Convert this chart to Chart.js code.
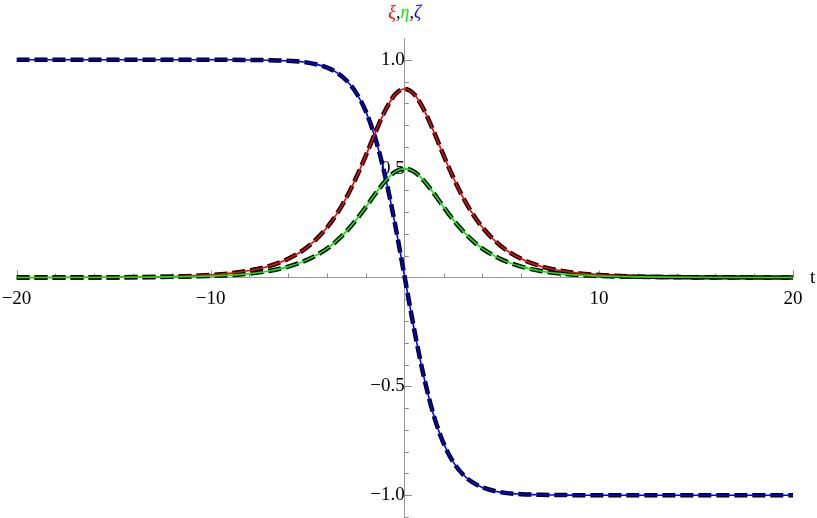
<!DOCTYPE html>
<html>
<head>
<meta charset="utf-8">
<script src="https://cdn.jsdelivr.net/npm/chart.js@4.4.1/dist/chart.umd.min.js"></script>
<style>
  html, body { margin: 0; padding: 0; background: #fff; }
  #wrap { width: 817px; height: 518px; }
</style>
</head>
<body>
<div id="wrap"><canvas id="chart" width="817" height="518"></canvas></div>
<script>
// values
const tValues = [-20, -16, -14, -12, -10, -9, -8, -7, -6, -5, -4, -3.5, -3, -2.5, -2, -1.5, -1, -0.5, 0,
  0.5, 1, 1.5, 2, 2.5, 3, 3.5, 4, 5, 6, 7, 8, 9, 10, 12, 14, 16, 20];
const xiValues = [0, 0.001, 0.002, 0.004, 0.012, 0.019, 0.032, 0.052, 0.086, 0.141, 0.230, 0.292, 0.368, 0.459, 0.561, 0.669, 0.768, 0.840, 0.866,
  0.840, 0.768, 0.669, 0.561, 0.459, 0.368, 0.292, 0.230, 0.141, 0.086, 0.052, 0.032, 0.019, 0.012, 0.004, 0.002, 0.001, 0];
const etaValues = [0, 0, 0.001, 0.003, 0.007, 0.011, 0.018, 0.030, 0.050, 0.082, 0.133, 0.169, 0.213, 0.265, 0.324, 0.386, 0.443, 0.485, 0.5,
  0.485, 0.443, 0.386, 0.324, 0.265, 0.213, 0.169, 0.133, 0.082, 0.050, 0.030, 0.018, 0.011, 0.007, 0.003, 0.001, 0, 0];
const zetaValues = [1, 1, 1, 1, 1, 1, 0.999, 0.998, 0.995, 0.987, 0.964, 0.941, 0.905, 0.848, 0.762, 0.635, 0.462, 0.245, 0,
  -0.245, -0.462, -0.635, -0.762, -0.848, -0.905, -0.941, -0.964, -0.987, -0.995, -0.998, -0.999, -1, -1, -1, -1, -1, -1];

const xTicks = [-20, -10, 10, 20];
const yTicks = [-1.0, -0.5, 0.5, 1.0];

const pts = vals => tValues.map((t, i) => ({ x: t, y: vals[i] }));
const solid = (vals, color) => ({
  data: pts(vals), borderColor: color, borderWidth: 1.6, pointRadius: 0,
  cubicInterpolationMode: 'monotone', order: 0
});
const dashed = vals => ({
  data: pts(vals), borderColor: '#000', borderWidth: 4.5, borderDash: [13, 5],
  pointRadius: 0, cubicInterpolationMode: 'monotone', order: 1
});

const serif = '"Liberation Serif", "DejaVu Serif", serif';
const fmt = v => (v < 0 ? '\u2212' : '') + Math.abs(v).toFixed(1);

// minor/major tick marks, axis label and title
const axisDecor = {
  id: 'axisDecor',
  beforeDatasetsDraw(chart) {
    const { ctx, scales: { x, y } } = chart;
    const x0 = x.getPixelForValue(0), y0 = y.getPixelForValue(0);
    ctx.save();
    ctx.strokeStyle = '#888';
    ctx.lineWidth = 1;
    ctx.beginPath();
    for (let t = -20; t <= 20; t += 2) {
      if (t === 0) continue;
      const px = Math.round(x.getPixelForValue(t)) + 0.5;
      const len = t % 10 === 0 ? 7 : 4;
      ctx.moveTo(px, y0); ctx.lineTo(px, y0 - len);
    }
    for (let k = -11; k <= 10; k++) {
      if (k === 0) continue;
      const py = Math.round(y.getPixelForValue(k / 10)) + 0.5;
      const len = k % 5 === 0 ? 7 : 4;
      ctx.moveTo(x0, py); ctx.lineTo(x0 + len, py);
    }
    ctx.stroke();
    ctx.restore();
  },
  afterDraw(chart) {
    const { ctx, scales: { x, y } } = chart;
    const y0 = y.getPixelForValue(0);
    ctx.save();
    ctx.font = '19px ' + serif;
    ctx.fillStyle = '#000';
    ctx.textBaseline = 'middle';
    ctx.fillText('t', 810, y0 + 1);
    // title
    ctx.font = 'italic 18px ' + serif;
    ctx.textBaseline = 'alphabetic';
    const parts = [['\u03be', '#f00'], [',', '#000'], ['\u03b7', '#0e0'], [',', '#000'], ['\u03b6', '#00f']];
    const w = parts.reduce((s, p) => s + ctx.measureText(p[0]).width, 0);
    let px = x.getPixelForValue(0) - w / 2;
    parts.forEach(([s, c]) => {
      ctx.fillStyle = c;
      ctx.fillText(s, px, 18);
      px += ctx.measureText(s).width;
    });
    ctx.restore();
  }
};

new Chart(document.getElementById('chart'), {
  type: 'line',
  data: {
    // first in list is drawn on top
    datasets: [
      solid(etaValues, '#00f000'),
      solid(xiValues, '#ff0000'),
      solid(zetaValues, '#0000ff'),
      dashed(etaValues),
      dashed(xiValues),
      dashed(zetaValues)
    ]
  },
  options: {
    responsive: false,
    animation: false,
    layout: { padding: { left: 16.5, right: 24, top: 38, bottom: 1 } },
    plugins: { legend: { display: false }, tooltip: { enabled: false } },
    scales: {
      x: {
        type: 'linear', min: -20, max: 20,
        position: { y: 0 },
        grid: { display: false, drawTicks: false },
        border: { display: true, color: '#999', width: 1 },
        afterBuildTicks: s => { s.ticks = xTicks.map(v => ({ value: v })); },
        afterFit: s => { s.height = 0; s.paddingLeft = 0; s.paddingRight = 0; },
        ticks: {
          padding: 10, color: '#000', maxRotation: 0, autoSkip: false,
          font: { family: serif, size: 19 },
          callback: v => (v < 0 ? '\u2212' : '') + Math.abs(v)
        }
      },
      y: {
        type: 'linear', min: -1.1, max: 1.1,
        position: { x: 0 },
        grid: { display: false, drawTicks: false },
        border: { display: true, color: '#999', width: 1 },
        afterBuildTicks: s => { s.ticks = yTicks.map(v => ({ value: v })); },
        afterFit: s => { s.width = 0; s.paddingTop = 0; s.paddingBottom = 0; },
        ticks: {
          padding: 7, color: '#000', autoSkip: false,
          font: { family: serif, size: 19 },
          callback: v => fmt(v)
        }
      }
    }
  },
  plugins: [axisDecor]
});
</script>
</body>
</html>
